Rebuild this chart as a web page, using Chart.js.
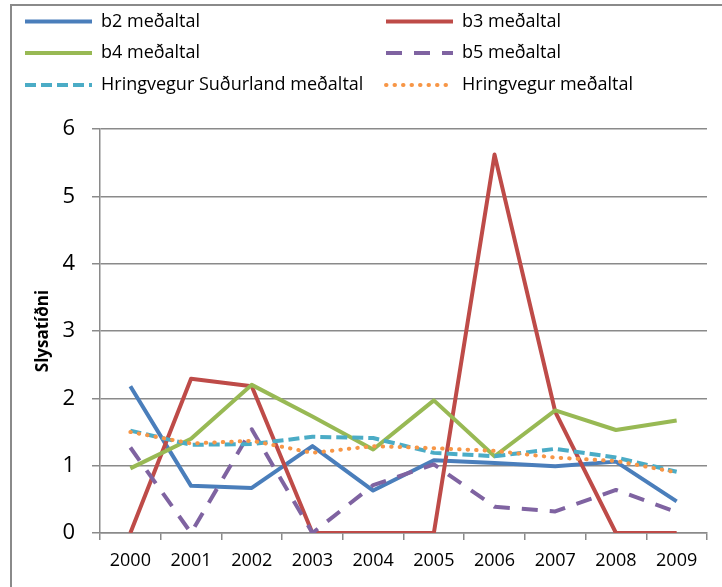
<!DOCTYPE html>
<html>
<head>
<meta charset="utf-8">
<script src="https://cdn.jsdelivr.net/npm/chart.js@4/dist/chart.umd.min.js"></script>
<style>
  body { margin: 0; background: #fff; }
  #wrap { width: 722px; height: 587px; }
</style>
</head>
<body>
<div id="wrap"><canvas id="slys" width="722" height="587"></canvas></div>
<script>
// === ADATOK ===
const years = ['2000', '2001', '2002', '2003', '2004', '2005', '2006', '2007', '2008', '2009'];
const b2 = [2.18, 0.70, 0.67, 1.29, 0.63, 1.08, 1.04, 0.99, 1.06, 0.47];
const b3 = [0, 2.29, 2.18, 0, 0, 0, 5.62, 1.80, 0, 0];
const b4 = [0.96, 1.40, 2.20, 1.73, 1.24, 1.97, 1.14, 1.82, 1.53, 1.67];
const b5 = [1.27, 0, 1.54, 0, 0.71, 1.02, 0.39, 0.32, 0.64, 0.31];
const hringSud = [1.52, 1.31, 1.32, 1.43, 1.41, 1.19, 1.14, 1.25, 1.12, 0.91];
const hring = [1.50, 1.33, 1.37, 1.19, 1.29, 1.26, 1.22, 1.12, 1.07, 0.90];
const seriesNames = ['b2 meðaltal', 'b3 meðaltal', 'b4 meðaltal', 'b5 meðaltal',
  'Hringvegur Suðurland meðaltal', 'Hringvegur meðaltal'];
const yTicks = [0, 1, 2, 3, 4, 5, 6];
const yTitle = 'Slysatíðni';

const FONT = "'Open Sans', 'DejaVu Sans', sans-serif";
const GRID = '#8a8a8a';

// vonal stílusok
const styles = [
  { color: '#4A7EBB', dash: [] },
  { color: '#BE4B48', dash: [] },
  { color: '#98B954', dash: [] },
  { color: '#7F63A1', dash: [16, 12] },
  { color: '#4BACC6', dash: [11, 5] },
  { color: '#F79646', dash: [0.5, 8], cap: 'round' }
];

const seriesData = [b2, b3, b4, b5, hringSud, hring];

const datasets = seriesData.map((d, i) => ({
  label: seriesNames[i],
  data: d,
  borderColor: styles[i].color,
  backgroundColor: styles[i].color,
  borderWidth: 4,
  borderDash: styles[i].dash,
  borderCapStyle: styles[i].cap || 'butt',
  borderJoinStyle: 'round',
  pointRadius: 0,
  tension: 0,
  fill: false,
  order: seriesData.length - i // a későbbi sorozat kerül felülre
}));

// keret a diagram körül
const framePlugin = {
  id: 'frame',
  beforeDraw(chart) {
    const ctx = chart.ctx;
    ctx.save();
    ctx.fillStyle = '#fff';
    ctx.fillRect(0, 0, chart.width, chart.height);
    ctx.strokeStyle = GRID;
    ctx.lineWidth = 2;
    ctx.strokeRect(11, 5, 740, 620);
    ctx.restore();
  }
};

// két oszlopos jelmagyarázat
const legendPlugin = {
  id: 'gridLegend',
  afterDraw(chart) {
    const ctx = chart.ctx;
    const colX = [25, 386];
    const rowY = [21.5, 53, 85];
    ctx.save();
    chart.data.datasets.forEach((ds, i) => {
      const x = colX[i % 2];
      const y = rowY[Math.floor(i / 2)];
      ctx.strokeStyle = ds.borderColor;
      ctx.lineWidth = 4;
      ctx.lineCap = ds.borderCapStyle;
      ctx.setLineDash(ds.borderDash);
      ctx.beginPath();
      ctx.moveTo(x, y);
      ctx.lineTo(x + 67, y);
      ctx.stroke();
      ctx.setLineDash([]);
      ctx.fillStyle = '#000';
      ctx.font = '18px ' + FONT;
      ctx.textBaseline = 'middle';
      ctx.textAlign = 'left';
      ctx.fillText(ds.label, x + 76, y);
    });
    ctx.restore();
  }
};

new Chart(document.getElementById('slys'), {
  type: 'line',
  data: { labels: years, datasets: datasets },
  plugins: [framePlugin, legendPlugin],
  options: {
    responsive: false,
    animation: false,
    layout: { padding: { top: 129, right: 15, bottom: 0, left: 0 } },
    plugins: { legend: { display: false }, tooltip: { enabled: false } },
    scales: {
      x: {
        offset: true,
        grid: { offset: true, drawOnChartArea: false, color: GRID, lineWidth: 1.5, tickLength: 7 },
        border: { color: GRID, width: 1.5 },
        ticks: { color: '#000', padding: 10, font: { family: FONT, size: 18 }, maxRotation: 0 },
        afterFit(scale) { scale.height = 54; }
      },
      y: {
        min: 0,
        max: 6,
        afterBuildTicks(scale) { scale.ticks = yTicks.map(v => ({ value: v })); },
        grid: { color: GRID, lineWidth: 1.5, tickLength: 8 },
        border: { color: GRID, width: 1.5 },
        ticks: { color: '#000', padding: 17, font: { family: FONT, size: 22 } },
        title: {
          display: true,
          text: yTitle,
          color: '#000',
          padding: { top: 33, bottom: 0 },
          font: { family: FONT, size: 17, weight: 'bold' }
        },
        afterFit(scale) { scale.width = 100; }
      }
    }
  }
});
</script>
</body>
</html>
